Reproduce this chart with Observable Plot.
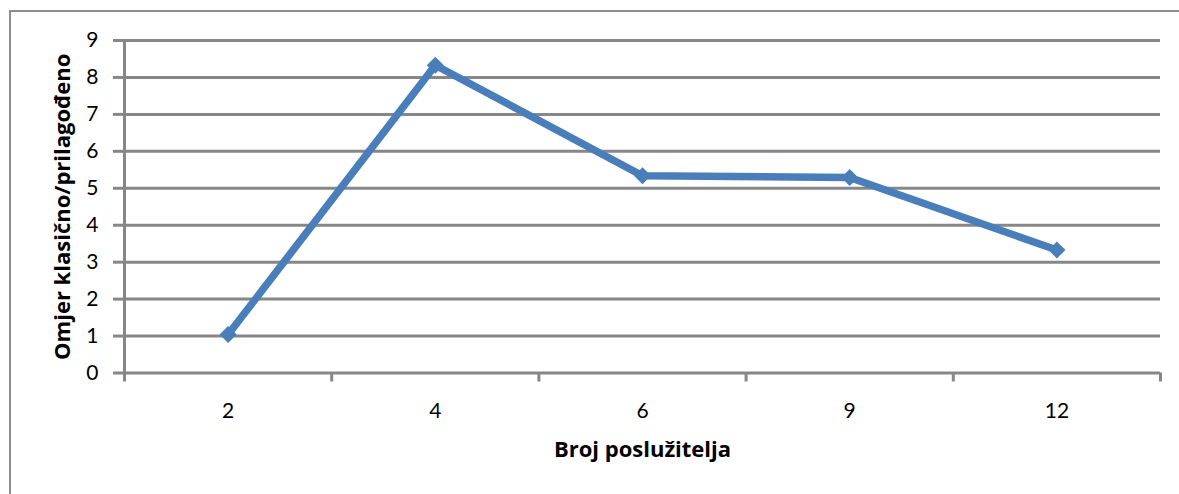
<!DOCTYPE html>
<html>
<head>
<meta charset="utf-8">
<script src="https://cdn.jsdelivr.net/npm/d3@7"></script>
<script src="https://cdn.jsdelivr.net/npm/@observablehq/plot@0.6"></script>
<style>
  html, body { margin: 0; padding: 0; background: #fff; }
  #wrap { position: relative; width: 1179px; height: 494px; overflow: hidden; }
  #frame { position: absolute; left: 9px; top: 10px; width: 1300px; height: 600px;
           border-top: 2px solid #8c8c8c; border-left: 2px solid #8c8c8c; }
  #chart { position: absolute; left: 0; top: 0; }
</style>
</head>
<body>
<div id="wrap"><div id="frame"></div><div id="chart"></div></div>
<script>
const categories = ["2", "4", "6", "9", "12"];
const values = [1.04, 8.33, 5.34, 5.29, 3.33];
const yTicks = [0, 1, 2, 3, 4, 5, 6, 7, 8, 9];
const xTitle = "Broj poslužitelja";
const yTitle = "Omjer klasično/prilagođeno";

const data = categories.map((c, i) => ({i, c, v: values[i]}));
const bounds = d3.range(categories.length + 1).map(k => k - 0.5);
const gray = "#878787";
const blue = "#4a7ebb";
const font = "Lato, 'Open Sans', sans-serif";
const titleFont = "'Open Sans', Lato, sans-serif";

const chart = Plot.plot({
  width: 1179,
  height: 494,
  marginLeft: 124,
  marginRight: 19,
  marginTop: 40,
  marginBottom: 121.5,
  style: {fontFamily: font, background: "transparent", overflow: "visible"},
  x: {type: "linear", domain: [-0.5, categories.length - 0.5], axis: null},
  y: {domain: [0, 9], axis: null},
  marks: [
    Plot.ruleY(yTicks, {stroke: gray, strokeWidth: 3}),
    Plot.axisY(yTicks, {tickSize: 11, tickPadding: 15, stroke: gray, strokeWidth: 3,
      fill: "#000", fontSize: 21, label: null, tickFormat: d => String(d)}),
    Plot.ruleX([-0.5], {y1: 0, y2: 9, stroke: gray, strokeWidth: 3}),
    Plot.axisX(bounds, {tickSize: 9, stroke: gray, strokeWidth: 3, label: null, tickFormat: () => ""}),
    Plot.axisX(d3.range(categories.length), {tickSize: 0, tickPadding: 30, fill: "#000",
      fontSize: 21, label: null, tickFormat: i => categories[i]}),
    Plot.line(data, {x: "i", y: "v", stroke: blue, strokeWidth: 7.5, strokeLinejoin: "miter"}),
    Plot.dot(data, {x: "i", y: "v", symbol: "square", r: 6.8, rotate: 45, fill: blue, stroke: "none"}),
    Plot.text([xTitle], {frameAnchor: "bottom", dy: 84, textAnchor: "middle", fontSize: 22,
      fontFamily: titleFont, fontWeight: "bold", fill: "#000"}),
    Plot.text([yTitle], {frameAnchor: "left", dx: -62, rotate: -90, textAnchor: "middle", fontSize: 22,
      fontFamily: titleFont, fontWeight: "bold", fill: "#000"})
  ]
});
document.getElementById("chart").appendChild(chart);
</script>
</body>
</html>
